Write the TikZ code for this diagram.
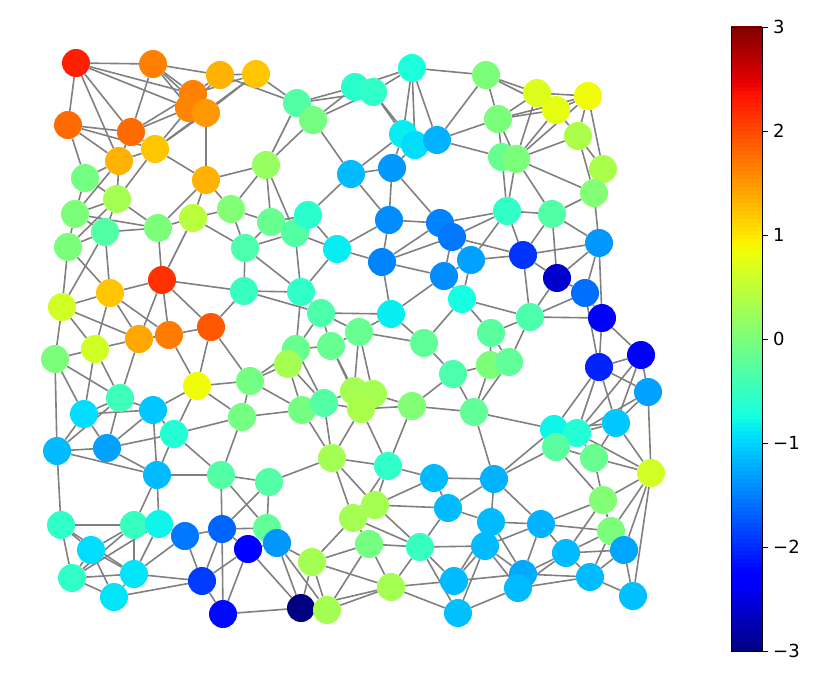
\documentclass[tikz,border=0pt]{standalone}
\usepackage{fontspec}
\setmainfont{DejaVu Sans}
\usetikzlibrary{backgrounds}
\definecolor{edgegray}{RGB}{128,128,128}
\newcommand\jetdef[2]{%
  \pgfmathsetmacro\jetT{max(0,min(1,(#2+3)/6))}%
  \pgfmathsetmacro\jetR{max(0,min(1,\jetT<0.35 ? 0 : (\jetT<0.66 ? (\jetT-0.35)/0.31 : (\jetT<0.89 ? 1 : 1-0.5*(\jetT-0.89)/0.11))))}%
  \pgfmathsetmacro\jetG{max(0,min(1,\jetT<0.125 ? 0 : (\jetT<0.375 ? (\jetT-0.125)/0.25 : (\jetT<0.64 ? 1 : (\jetT<0.91 ? 1-(\jetT-0.64)/0.27 : 0)))))}%
  \pgfmathsetmacro\jetB{max(0,min(1,\jetT<0.11 ? 0.5+0.5*\jetT/0.11 : (\jetT<0.34 ? 1 : (\jetT<0.65 ? 1-(\jetT-0.34)/0.31 : 0))))}%
  \definecolor{#1}{rgb}{\jetR,\jetG,\jetB}}
\newcommand\gnode[4]{\jetdef{jc#1}{#4}\node[vtx,fill=jc#1] (n#1) at (#2,#3) {};}
\begin{document}
\begin{tikzpicture}[x=1pt,y=-1pt,
  vtx/.style={circle,minimum size=28pt,inner sep=0pt,draw=none},
  edge/.style={draw=edgegray,line width=1.6pt},
  ticklbl/.style={anchor=west,inner sep=0pt,font=\fontsize{18}{20}\selectfont}]
\useasboundingbox (0,0) rectangle (830,683);
% nodes
\gnode{1}{76}{63}{2.27}
\gnode{2}{153}{64}{1.65}
\gnode{3}{220}{75}{1.33}
\gnode{4}{256}{74}{1.2}
\gnode{5}{193}{94}{1.65}
\gnode{6}{189}{108}{1.62}
\gnode{7}{206}{113}{1.5}
\gnode{8}{68}{125}{1.78}
\gnode{9}{131}{132}{1.78}
\gnode{10}{155}{149}{1.2}
\gnode{11}{119}{161}{1.33}
\gnode{12}{206}{180}{1.33}
\gnode{13}{85}{178}{-0.05}
\gnode{14}{117}{199}{0.3}
\gnode{15}{75}{214}{0}
\gnode{16}{68}{247}{0}
\gnode{17}{105}{232}{-0.3}
\gnode{18}{158}{228}{0}
\gnode{19}{193}{218}{0.45}
\gnode{20}{231}{209}{0.05}
\gnode{21}{266}{165}{0.2}
\gnode{22}{245}{248}{-0.35}
\gnode{23}{271}{222}{-0.15}
\gnode{24}{295}{233}{-0.3}
\gnode{25}{308}{215}{-0.6}
\gnode{26}{297}{103}{-0.3}
\gnode{27}{313}{120}{-0.05}
\gnode{28}{355}{87}{-0.6}
\gnode{29}{373}{92}{-0.55}
\gnode{30}{412}{68}{-0.7}
\gnode{31}{403}{134}{-0.85}
\gnode{32}{415}{145}{-0.95}
\gnode{33}{437}{140}{-1.2}
\gnode{34}{392}{168}{-1.36}
\gnode{35}{351}{174}{-1.15}
\gnode{37}{486}{75}{0}
\gnode{38}{537}{93}{0.7}
\gnode{39}{588}{96}{0.85}
\gnode{40}{556}{110}{0.78}
\gnode{41}{498}{119}{0}
\gnode{42}{578}{136}{0.35}
\gnode{43}{502}{157}{-0.15}
\gnode{44}{516}{159}{0}
\gnode{45}{603}{169}{0.35}
\gnode{46}{594}{193}{0.05}
\gnode{47}{337}{249}{-0.85}
\gnode{48}{389}{220}{-1.42}
\gnode{49}{440}{223}{-1.48}
\gnode{50}{452}{237}{-1.55}
\gnode{51}{382}{262}{-1.48}
\gnode{52}{444}{276}{-1.42}
\gnode{53}{471}{260}{-1.3}
\gnode{54}{462}{299}{-0.75}
\gnode{55}{301}{292}{-0.55}
\gnode{56}{244}{291}{-0.5}
\gnode{57}{321}{313}{-0.35}
\gnode{58}{391}{314}{-0.85}
\gnode{59}{359}{332}{-0.15}
\gnode{60}{424}{343}{-0.2}
\gnode{61}{296}{349}{-0.15}
\gnode{62}{331}{346}{-0.15}
\gnode{63}{162}{280}{2.15}
\gnode{64}{110}{293}{1.2}
\gnode{65}{62}{307}{0.62}
\gnode{66}{139}{339}{1.4}
\gnode{67}{169}{335}{1.67}
\gnode{68}{211}{327}{1.9}
\gnode{69}{95}{349}{0.62}
\gnode{70}{55}{359}{0}
\gnode{71}{507}{211}{-0.55}
\gnode{72}{552}{214}{-0.3}
\gnode{73}{599}{243}{-1.36}
\gnode{74}{523}{255}{-1.95}
\gnode{75}{557}{278}{-2.6}
\gnode{76}{585}{293}{-1.6}
\gnode{77}{530}{317}{-0.35}
\gnode{78}{602}{318}{-2.3}
\gnode{79}{491}{333}{-0.25}
\gnode{80}{641}{355}{-2.3}
\gnode{81}{197}{386}{0.85}
\gnode{82}{250}{381}{-0.05}
\gnode{83}{120}{398}{-0.45}
\gnode{84}{84}{414}{-0.95}
\gnode{85}{153}{410}{-1.08}
\gnode{86}{174}{434}{-0.65}
\gnode{87}{242}{417}{-0.05}
\gnode{88}{57}{451}{-1.15}
\gnode{89}{107}{448}{-1.3}
\gnode{90}{157}{475}{-1.15}
\gnode{91}{221}{475}{-0.3}
\gnode{92}{269}{482}{-0.3}
\gnode{93}{288}{364}{0.3}
\gnode{94}{453}{374}{-0.35}
\gnode{95}{302}{410}{-0.05}
\gnode{96}{324}{403}{-0.3}
\gnode{97}{354}{391}{0.3}
\gnode{98}{373}{394}{0.3}
\gnode{99}{361}{409}{0.35}
\gnode{100}{412}{406}{0.05}
\gnode{101}{474}{412}{-0.2}
\gnode{102}{332}{458}{0.3}
\gnode{103}{388}{466}{-0.55}
\gnode{104}{434}{478}{-1.15}
\gnode{105}{375}{505}{0.3}
\gnode{106}{448}{508}{-1.15}
\gnode{107}{490}{365}{0}
\gnode{108}{509}{362}{-0.2}
\gnode{109}{599}{367}{-2.05}
\gnode{110}{648}{392}{-1.3}
\gnode{111}{554}{429}{-0.8}
\gnode{112}{577}{433}{-0.65}
\gnode{113}{556}{447}{-0.25}
\gnode{114}{616}{423}{-1.08}
\gnode{115}{594}{458}{-0.15}
\gnode{116}{651}{473}{0.62}
\gnode{117}{494}{479}{-1.2}
\gnode{118}{603}{500}{0.05}
\gnode{119}{61}{525}{-0.55}
\gnode{120}{134}{525}{-0.5}
\gnode{121}{159}{524}{-0.8}
\gnode{122}{91}{550}{-0.95}
\gnode{123}{185}{536}{-1.55}
\gnode{124}{222}{529}{-1.66}
\gnode{125}{72}{578}{-0.55}
\gnode{126}{134}{574}{-0.9}
\gnode{127}{114}{597}{-0.9}
\gnode{128}{202}{581}{-1.9}
\gnode{129}{248}{549}{-2.3}
\gnode{130}{223}{614}{-2.2}
\gnode{131}{267}{528}{-0.2}
\gnode{132}{277}{543}{-1.36}
\gnode{133}{312}{562}{0.3}
\gnode{134}{301}{608}{-3}
\gnode{135}{327}{610}{0.3}
\gnode{136}{353}{518}{0.3}
\gnode{137}{369}{544}{-0.05}
\gnode{138}{420}{547}{-0.5}
\gnode{139}{391}{587}{0.3}
\gnode{140}{454}{581}{-1.15}
\gnode{141}{458}{613}{-1.12}
\gnode{142}{491}{522}{-1.15}
\gnode{143}{485}{546}{-1.15}
\gnode{144}{541}{524}{-1.2}
\gnode{145}{566}{553}{-1.15}
\gnode{146}{523}{574}{-1.25}
\gnode{147}{518}{588}{-1.15}
\gnode{148}{590}{577}{-1.15}
\gnode{149}{611}{531}{0}
\gnode{150}{624}{550}{-1.28}
\gnode{151}{633}{596}{-1.12}
% edges
\begin{scope}[on background layer]
\foreach \a/\b in {1/2,1/8,1/5,1/6,1/9,1/11,
2/3,2/5,2/6,2/7,2/9,
3/4,3/5,3/6,3/26,
4/5,4/7,4/10,4/26,
5/6,5/7,6/7,5/9,6/9,6/10,7/10,7/12,
8/9,8/10,8/11,8/13,
9/10,9/11,10/11,10/12,10/14,
11/13,11/14,11/15,
12/18,12/19,12/20,12/21,
13/14,13/15,
14/15,14/16,14/17,14/18,
15/16,15/17,15/18,
16/17,16/65,16/64,
17/18,17/64,17/65,
18/19,18/63,
19/20,19/22,19/63,
20/22,20/23,20/21,
21/23,21/26,21/27,21/24,
22/23,22/24,22/56,22/55,
23/24,23/25,24/25,24/47,24/55,25/47,25/35,
26/27,26/28,26/29,27/28,27/29,28/29,28/30,29/30,29/31,29/32,
30/31,30/32,30/33,30/37,31/32,31/33,32/33,31/34,32/34,31/35,34/35,
34/48,34/49,35/48,35/27,
33/41,33/43,33/37,
37/38,37/40,37/41,
38/39,38/40,38/41,38/44,
39/40,39/41,39/42,39/45,39/44,
40/41,40/42,40/44,
41/43,41/44,
42/44,42/45,42/46,
43/44,43/71,
44/46,44/71,44/72,
45/46,46/72,46/73,
47/48,47/51,47/55,
48/49,48/51,49/50,49/51,49/71,50/71,50/51,50/52,50/53,50/74,
51/52,51/58,52/53,52/54,52/58,53/54,53/74,53/71,
54/60,54/77,54/79,
55/56,55/57,55/61,
56/57,56/63,56/68,
57/58,57/59,57/61,57/62,
58/59,58/60,59/60,59/62,59/97,59/98,
60/94,
61/62,61/82,61/93,61/96,
62/97,62/99,
63/64,63/66,63/67,63/68,
64/65,64/66,64/67,64/69,
65/66,65/69,65/70,
66/67,66/69,66/83,
67/68,67/81,68/81,68/82,
69/70,69/83,69/84,
70/83,70/84,70/88,
71/72,71/74,72/73,72/74,72/75,
73/74,73/75,73/76,73/78,
74/75,74/77,75/76,75/77,
76/77,76/78,76/109,
77/78,77/79,77/108,
78/80,78/109,
79/107,79/108,
80/109,80/110,80/114,80/112,
81/82,81/85,81/86,81/87,
82/87,82/93,82/95,
83/84,83/85,83/88,83/89,
84/85,84/88,84/89,
85/86,85/89,85/90,
86/87,86/89,86/90,86/91,
87/91,87/95,
88/89,88/90,88/119,
89/90,90/91,90/120,90/121,
91/92,91/124,91/131,
92/131,92/124,92/102,
93/95,93/96,
95/96,95/102,96/97,96/99,96/102,
97/98,97/99,98/99,98/100,99/100,99/102,99/103,
100/94,100/101,100/103,
94/101,94/107,
101/107,101/108,101/111,101/117,
102/103,102/105,102/136,
103/104,103/105,103/136,
104/105,104/106,104/117,
105/106,105/136,105/138,
106/117,106/142,106/138,
107/108,
109/110,109/111,109/112,109/114,
110/112,110/114,110/116,
111/112,111/113,111/117,111/114,
112/113,112/114,112/115,112/116,
113/115,113/117,113/118,
114/115,114/116,
115/116,115/118,
116/118,116/149,116/150,116/151,
117/142,117/144,
118/144,118/145,118/149,
119/120,119/122,119/125,119/126,
120/121,120/122,120/125,120/126,
121/123,121/126,121/125,
122/125,122/126,122/127,
123/124,123/128,123/126,
124/128,124/129,124/130,124/131,
125/126,125/127,126/127,126/128,127/128,
128/129,128/130,129/130,129/132,129/134,
130/134,131/132,
132/133,132/134,132/135,
133/134,133/135,133/136,133/137,133/139,
134/135,134/139,135/137,135/139,
136/137,136/138,
137/138,137/139,
138/139,138/140,138/141,138/143,
139/140,139/141,
140/143,140/146,140/142,
141/143,141/147,
142/143,142/144,142/146,
143/144,143/146,143/147,
144/145,144/146,144/149,
145/146,145/147,145/148,145/149,145/150,
146/147,146/148,147/148,
148/150,148/151,148/149,
149/150,150/151}
  \draw[edge] (n\a) -- (n\b);
\end{scope}
% colorbar
\foreach \i in {0,...,155} {
  \pgfmathsetmacro\cbv{-3+6*(\i+0.5)/156}
  \jetdef{cbc}{\cbv}
  \pgfmathsetmacro\cbya{651-4*\i}
  \pgfmathsetmacro\cbyb{651-4*\i-4.6}
  \fill[cbc] (731,\cbya) rectangle (762,\cbyb);
}
\draw[black,line width=0.8pt] (731,27) rectangle (762,651);
\foreach \v/\t in {3/3,2/2,1/1,0/0,-1/{\char"2212 1},-2/{\char"2212 2},-3/{\char"2212 3}} {
  \draw[black,line width=0.8pt] (762,339-104*\v) -- (768,339-104*\v);
  \node[ticklbl] (tk\v) at (773,339-104*\v) {\t};
}
\end{tikzpicture}
\end{document}
